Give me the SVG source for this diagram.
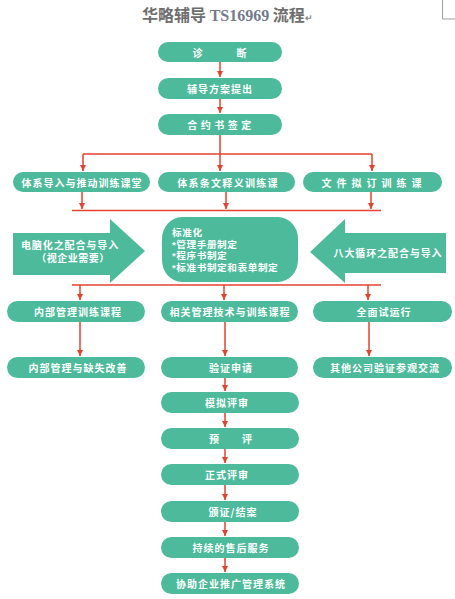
<svg xmlns="http://www.w3.org/2000/svg" width="455" height="599" viewBox="0 0 455 599">
<defs>
<style>
.n{fill:#4dbb9b}
.t{font-family:"Noto Sans CJK SC","Noto Sans",sans-serif;font-size:10px;fill:#fff;text-anchor:middle;dominant-baseline:central;font-weight:bold;letter-spacing:1px}
.t2{font-family:"Liberation Sans","Noto Sans CJK SC",sans-serif;font-size:10px;fill:#fff;text-anchor:middle;dominant-baseline:central;font-weight:bold}
.l{font-family:"Liberation Sans","Noto Sans CJK SC",sans-serif;font-size:9.6px;fill:#fff;dominant-baseline:central;font-weight:bold;letter-spacing:0.6px}
.c{stroke:#e5432f;stroke-width:1.5;fill:none}
.a{marker-end:url(#ah)}
</style>
<marker id="ah" markerUnits="userSpaceOnUse" markerWidth="7" markerHeight="7" refX="6" refY="3.5" orient="auto">
<path d="M0,0.5 L6,3.5 L0,6.5 z" fill="#e5432f"/>
</marker>
</defs>
<rect width="455" height="599" fill="#fff"/>
<path d="M442.5,0 V19 H455" stroke="#a0a0a0" stroke-width="1" fill="none"/>
<text x="142" y="21" font-family="'Noto Sans CJK SC',sans-serif" font-size="16" font-weight="bold" fill="#6e6e6e">华略辅导 <tspan font-family="'Liberation Serif',serif" fill="#737a8a">TS16969</tspan> 流程<tspan font-size="9" fill="#888">↵</tspan></text>

<g id="connectors">
<path class="c a" d="M220,62 V77"/>
<path class="c a" d="M220,99 V113"/>
<path class="c" d="M220,135 V154 M83,154 H372"/>
<path class="c a" d="M83,154 V171"/>
<path class="c a" d="M220,154 V171"/>
<path class="c a" d="M372,154 V171"/>
<path class="c a" d="M82,192 V209"/>
<path class="c a" d="M226,192 V209"/>
<path class="c a" d="M371,192 V209"/>
<path class="c" d="M72,210.5 H381"/>
<path class="c" d="M72,285 H381"/>
<path class="c a" d="M80,285 V300"/>
<path class="c a" d="M224,285 V300"/>
<path class="c a" d="M368,285 V300"/>
<path class="c a" d="M80,322 V356"/>
<path class="c a" d="M225,322 V356"/>
<path class="c a" d="M369,322 V356"/>
<path class="c a" d="M225,378 V391"/>
<path class="c a" d="M225,413 V427"/>
<path class="c a" d="M225,449 V463"/>
<path class="c a" d="M225,485 V500"/>
<path class="c a" d="M225,522 V536"/>
<path class="c a" d="M225,558 V572"/>
</g>

<g id="n1"><rect class="n" x="158" y="42" width="124" height="20" rx="10"/><text class="t" x="220" y="52">诊　　　断</text></g>
<g id="n2"><rect class="n" x="158" y="78" width="124" height="21" rx="10.5"/><text class="t" x="220" y="88.5">辅导方案提出</text></g>
<g id="n3"><rect class="n" x="158" y="114" width="124" height="21" rx="10.5"/><text class="t" x="221" y="124.5" style="letter-spacing:3.5px">合约书签定</text></g>

<g id="n4"><rect class="n" x="13" y="172" width="137" height="20" rx="10"/><text class="t" x="82" y="182">体系导入与推动训练课堂</text></g>
<g id="n5"><rect class="n" x="158" y="172" width="137" height="20" rx="10"/><text class="t" x="228" y="182" style="letter-spacing:1.3px">体系条文释义训练课</text></g>
<g id="n6"><rect class="n" x="303" y="172" width="139" height="20" rx="10"/><text class="t" x="374" y="182" style="letter-spacing:5px">文件拟订训练课</text></g>

<g id="n7"><path class="n" d="M13,233 H110 V219 L145,251 L110,283 V275 H13 Z"/><text class="t2" x="70" y="245" style="letter-spacing:0.9px">电脑化之配合与导入<tspan x="73" y="258" style="letter-spacing:0.5px">（视企业需要）</tspan></text></g>
<g id="n8"><rect class="n" x="162" y="217" width="136" height="65" rx="20" ry="22"/><text class="l" x="172" y="232">标准化<tspan x="172" y="243.7">*管理手册制定</tspan><tspan x="172" y="255.4">*程序书制定</tspan><tspan x="172" y="267.1">*标准书制定和表单制定</tspan></text></g>
<g id="n9"><path class="n" d="M446,233 H345 V219 L310,252 L345,283 V273 H446 Z"/><text class="t" x="388" y="252" style="letter-spacing:0.9px">八大循环之配合与导入</text></g>

<g id="n10"><rect class="n" x="7" y="301" width="138" height="21" rx="10.5"/><text class="t" x="78" y="311.5">内部管理训练课程</text></g>
<g id="n11"><rect class="n" x="161" y="301" width="137" height="21" rx="10.5"/><text class="t" x="230" y="311.5">相关管理技术与训练课程</text></g>
<g id="n12"><rect class="n" x="313" y="301" width="139" height="21" rx="10.5"/><text class="t" x="384" y="311.5">全面试运行</text></g>

<g id="n13"><rect class="n" x="7" y="357" width="138" height="21" rx="10.5"/><text class="t" x="78" y="367.5">内部管理与缺失改善</text></g>
<g id="n14"><rect class="n" x="161" y="357" width="137" height="21" rx="10.5"/><text class="t" x="231" y="367.5">验证申请</text></g>
<g id="n15"><rect class="n" x="313" y="357" width="139" height="21" rx="10.5"/><text class="t" x="385" y="367.5">其他公司验证参观交流</text></g>

<g id="n16"><rect class="n" x="161" y="392" width="138" height="21" rx="10.5"/><text class="t" x="227" y="402.5">模拟评审</text></g>
<g id="n17"><rect class="n" x="161" y="428" width="138" height="21" rx="10.5"/><text class="t" x="231" y="438.5">预　　评</text></g>
<g id="n18"><rect class="n" x="161" y="464" width="138" height="21" rx="10.5"/><text class="t" x="227" y="474.5">正式评审</text></g>
<g id="n19"><rect class="n" x="161" y="501" width="138" height="21" rx="10.5"/><text class="t" x="233" y="511.5">颁证/结案</text></g>
<g id="n20"><rect class="n" x="161" y="537" width="138" height="21" rx="10.5"/><text class="t" x="231" y="547.5">持续的售后服务</text></g>
<g id="n21"><rect class="n" x="161" y="573" width="138" height="21" rx="10.5"/><text class="t" x="231" y="583.5">协助企业推广管理系统</text></g>
</svg>
